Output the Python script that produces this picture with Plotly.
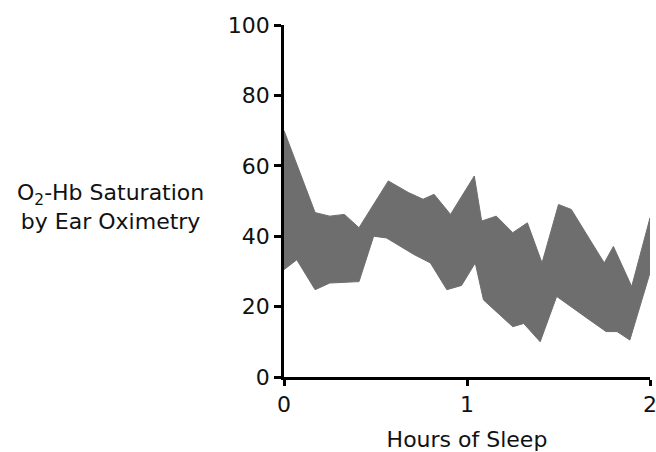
import plotly.graph_objects as go

# Upper boundary of the band (hours, % saturation)
upper_hours = [0, 0.17, 0.25, 0.33, 0.41, 0.57, 0.68, 0.76, 0.82, 0.91, 1.04, 1.08,
               1.16, 1.25, 1.33, 1.41, 1.50, 1.57, 1.75, 1.80, 1.90, 2.0]
upper_sat = [70, 46.7, 45.7, 46.2, 42.4, 55.7, 52.4, 50.5, 51.9, 46.2, 57.1, 44.3,
             45.7, 41.0, 43.8, 32.4, 49.0, 47.6, 32.4, 37.1, 25.7, 45.2]

# Lower boundary of the band
lower_hours = [0, 0.07, 0.17, 0.25, 0.41, 0.49, 0.56, 0.71, 0.80, 0.89, 0.97, 1.045,
               1.09, 1.17, 1.25, 1.31, 1.40, 1.49, 1.57, 1.67, 1.76, 1.82, 1.89, 2.0]
lower_sat = [30.5, 33.3, 24.8, 26.7, 27.1, 40.0, 39.5, 34.8, 32.4, 24.8, 26.0, 32.4,
             21.9, 18.1, 14.3, 15.2, 10.0, 22.9, 20.0, 16.2, 12.9, 12.9, 10.5, 29.6]

x_ticks = [0, 1, 2]
y_ticks = [0, 20, 40, 60, 80, 100]

FONT = "DejaVu Sans"
TEXT = "#111111"
band_color = "#6e6e6e"

poly_x = upper_hours + lower_hours[::-1]
poly_y = upper_sat + lower_sat[::-1]

fig = go.Figure()
fig.add_trace(go.Scatter(
    x=poly_x, y=poly_y, mode="lines", fill="toself",
    fillcolor=band_color, line=dict(color=band_color, width=1),
    showlegend=False, hoverinfo="skip", cliponaxis=False))

axis_common = dict(
    showgrid=False, zeroline=False, showline=True, linecolor="black", linewidth=2.5,
    ticks="outside", tickcolor="black", tickwidth=2.5, automargin=False,
    ticklabeloverflow="allow",
    tickfont=dict(family=FONT, size=22, color=TEXT),
)

fig.update_xaxes(range=[0, 2], tickvals=x_ticks, ticklen=6, **axis_common,
                 title=dict(text="Hours of Sleep", font=dict(family=FONT, size=22, color=TEXT),
                            standoff=16))
fig.update_yaxes(range=[0, 100], tickvals=y_ticks, ticklen=7, **axis_common)

fig.add_annotation(
    text="O<sub>2</sub>-Hb Saturation<br>by Ear Oximetry",
    xref="paper", yref="paper", x=-0.473, y=0.483, xanchor="center", yanchor="middle",
    showarrow=False, align="center",
    font=dict(family=FONT, size=22, color=TEXT))

fig.update_layout(
    width=656, height=452,
    margin=dict(l=284, r=6, t=25, b=75, autoexpand=False),
    paper_bgcolor="white", plot_bgcolor="white",
    font=dict(family=FONT),
)

fig.write_html("out.html", config={"displayModeBar": False},
               post_script="document.body.style.margin='0';document.body.style.overflow='hidden';")
